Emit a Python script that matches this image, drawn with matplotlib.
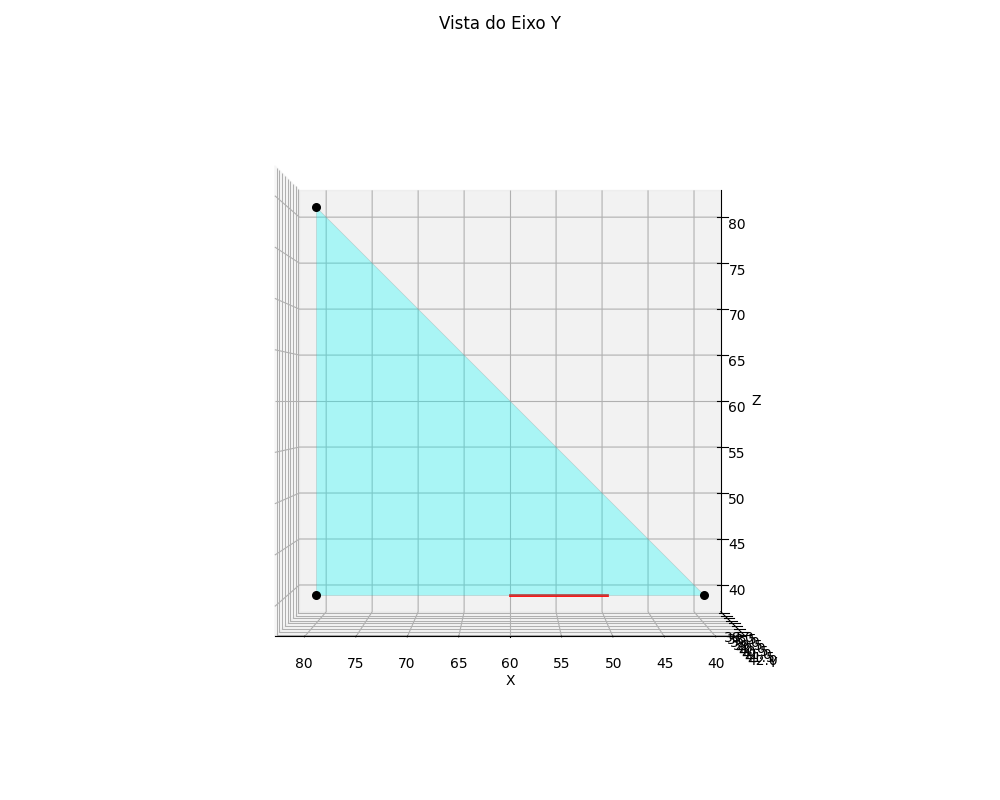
import matplotlib.pyplot as plt
from mpl_toolkits.mplot3d.art3d import Poly3DCollection

# Vertices of the triangle
px = [80, 80, 40]
py = [40, 40, 40]
pz = [80, 40, 40]

# Red segment
seg_x = [60, 50]
seg_y = [40, 40]
seg_z = [40, 40]

fig = plt.figure(figsize=(10, 8), dpi=100)
ax = fig.add_subplot(111, projection='3d')

tri = Poly3DCollection([list(zip(px, py, pz))], facecolor='cyan', alpha=0.3, edgecolor='gray', linewidth=0.5)
ax.add_collection3d(tri)
ax.scatter(px, py, pz, color='black', s=30, depthshade=False)
ax.plot(seg_x, seg_y, seg_z, color='red', linewidth=2)

ax.set_xlabel('X')
ax.set_ylabel('Y')
ax.set_zlabel('Z')
ax.set_title('Vista do Eixo Y')
ax.set_box_aspect([1, 1, 1])
ax.view_init(elev=0, azim=90)

plt.tight_layout()
plt.savefig('out.png')
